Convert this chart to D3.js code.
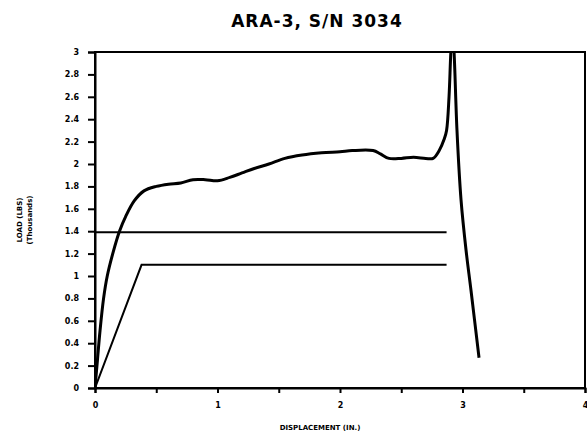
<!DOCTYPE html>
<html><head><meta charset="utf-8">
<script src="https://cdn.jsdelivr.net/npm/d3@7/dist/d3.min.js"></script>
<style>
body{margin:0;background:#fff;}
svg{display:block;}
text{font-family:"DejaVu Sans",sans-serif;font-weight:bold;fill:#000;}
</style></head><body>
<svg id="c" width="587" height="435"></svg>
<script>
const title = "ARA-3, S/N 3034";
const xLabel = "DISPLACEMENT (IN.)";
const yLabel1 = "LOAD (LBS)";
const yLabel2 = "(Thousands)";
const xTicks = [0, 0.5, 1, 1.5, 2, 2.5, 3, 3.5, 4];
const xTickLabels = [0, 1, 2, 3, 4];
const yTicks = [0,0.2,0.4,0.6,0.8,1,1.2,1.4,1.6,1.8,2,2.2,2.4,2.6,2.8,3];
// load-displacement trace (loading branch, then unloading branch after the peak)
const loadX = [0,0.02,0.04,0.07,0.1,0.15,0.2,0.25,0.32,0.4,0.5,0.6,0.7,0.8,0.9,1.0,1.1,1.2,1.3,1.42,1.55,1.69,1.85,2.0,2.1,2.27,2.33,2.4,2.5,2.6,2.7,2.76,2.81,2.85,2.87,2.89,2.905,2.918,2.931,2.955,2.988,3.029,3.069,3.135];
const loadY = [0,0.25,0.5,0.8,1.0,1.22,1.4,1.53,1.67,1.76,1.8,1.82,1.83,1.86,1.86,1.85,1.88,1.92,1.96,2.0,2.05,2.08,2.1,2.11,2.12,2.12,2.09,2.05,2.05,2.06,2.05,2.05,2.12,2.22,2.3,2.6,3.0,3.2,3.0,2.3,1.68,1.23,0.875,0.27];
const peakIndex = 37;
// reference lines
const refHighX = [0, 2.87];
const refHighY = [1.39, 1.39];
const refLowX = [0, 0.38, 2.87];
const refLowY = [0, 1.1, 1.1];

const svg = d3.select("#c");
const L = 95, R = 585, T = 52, B = 388;
const x = d3.scaleLinear().domain([0,4]).range([L,R]);
const y = d3.scaleLinear().domain([0,3]).range([B,T]);

svg.append("defs").append("clipPath").attr("id","clip")
  .append("rect").attr("x",L).attr("y",T).attr("width",R-L).attr("height",B-T);

// frame
svg.append("rect").attr("x",L).attr("y",T).attr("width",R-L).attr("height",B-T)
  .attr("fill","none").attr("stroke","#000").attr("stroke-width",2);

// y axis
const yAx = svg.append("g").attr("transform",`translate(${L},0)`)
  .call(d3.axisLeft(y).tickValues(yTicks).tickSize(7).tickPadding(9)
    .tickFormat(d => d3.format("~g")(d)));
yAx.select(".domain").attr("stroke-width",2);
yAx.selectAll(".tick line").attr("stroke-width",2);
yAx.selectAll("text").style("font-size","8px").style("font-family","DejaVu Sans").style("font-weight","bold");

// x axis
const xAx = svg.append("g").attr("transform",`translate(0,${B})`)
  .call(d3.axisBottom(x).tickValues(xTicks).tickSize(5).tickPadding(9)
    .tickFormat(d => xTickLabels.includes(d) ? d : ""));
xAx.select(".domain").attr("stroke-width",2);
xAx.selectAll(".tick line").attr("stroke-width",2);
xAx.selectAll("text").style("font-size","8px").style("font-family","DejaVu Sans").style("font-weight","bold");

const lineLin = d3.line().x(d=>x(d[0])).y(d=>y(d[1]));
const lineSmooth = d3.line().x(d=>x(d[0])).y(d=>y(d[1])).curve(d3.curveCatmullRom.alpha(0.5));
const g = svg.append("g").attr("clip-path","url(#clip)");

g.append("path").datum(refHighX.map((v,i)=>[v,refHighY[i]]))
  .attr("d",lineLin).attr("fill","none").attr("stroke","#000").attr("stroke-width",2);
g.append("path").datum(refLowX.map((v,i)=>[v,refLowY[i]]))
  .attr("d",lineLin).attr("fill","none").attr("stroke","#000").attr("stroke-width",2);

const pts = loadX.map((v,i)=>[v,loadY[i]]);
const up = pts.slice(0, peakIndex+1);
const down = pts.slice(peakIndex);
[up, down].forEach(seg => {
  g.append("path").datum(seg)
    .attr("d",lineSmooth)
    .attr("fill","none").attr("stroke","#000").attr("stroke-width",3).attr("stroke-linejoin","round");
});

// title
svg.append("text").attr("x",317).attr("y",27).attr("text-anchor","middle")
  .style("font-size","17px").style("letter-spacing","1px").text(title);
// x label
svg.append("text").attr("x",320).attr("y",430).attr("text-anchor","middle")
  .style("font-size","7px").text(xLabel);
// y label
const yl = svg.append("text").attr("transform","translate(22,220) rotate(-90)").attr("text-anchor","middle")
  .style("font-size","7px");
yl.append("tspan").attr("x",0).attr("dy",0).text(yLabel1);
yl.append("tspan").attr("x",0).attr("dy",10).text(yLabel2);
</script>
</body></html>
